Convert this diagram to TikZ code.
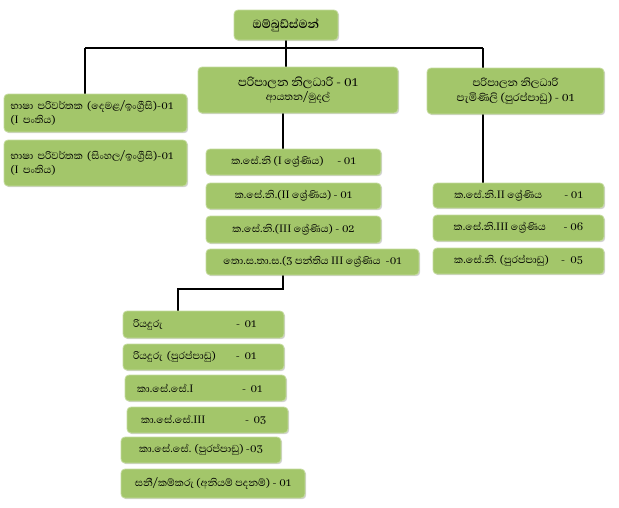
\documentclass[tikz,border=0pt]{standalone}
\usepackage{fontspec}
\setmainfont{Liberation Serif}
\newfontfamily\sinhala[Script=Sinhala]{Abhaya Libre}
\usetikzlibrary{shadows,backgrounds}
\definecolor{postfill}{RGB}{163,198,106}
\definecolor{postline}{RGB}{196,219,158}
\newcommand{\zwj}{^^^^200d}
\newcommand{\entry}[3]{\makebox[#1][l]{#2}#3}
\tikzset{
  post/.style={draw=postline, fill=postfill, line width=0.8pt, rounded corners=4pt,
    inner sep=0pt, font=\sinhala\fontsize{12.8}{14}\selectfont,
    drop shadow={opacity=0.35, shadow xshift=1.2pt, shadow yshift=-1.2pt}},
  link/.style={line width=1.7pt, black}
}
\begin{document}
\begin{tikzpicture}[x=1pt, y=-1pt]
  \useasboundingbox (0,0) rectangle (619,507);
  % head
  \node[post, minimum width=104pt, minimum height=30pt, font=\sinhala\bfseries\fontsize{15}{17}\selectfont] (omb) at (286,25) {ඔම්බුඩ්ස්මන්};
  \node[post, minimum width=200pt, minimum height=46pt, align=center, font=\sinhala\fontsize{15}{15}\selectfont] (admA) at (298,90)
    {පරිපාලන නිලධාරි - 01\\[-1pt]{\fontsize{13}{14}\selectfont ආයතන/මුදල්}};
  \node[post, minimum width=177pt, minimum height=46pt, align=center, font=\sinhala\fontsize{13.5}{15}\selectfont] (admB) at (515.5,91)
    {පරිපාලන නිලධාරි\\පැමිණිලි (පුරප්පාඩු) - 01};
  % translators
  \node[post, minimum width=183pt, minimum height=38pt, text width=170pt, align=left] (transA) at (95.5,113)
    {භාෂා පරිවර්තක (දෙමළ/ඉංග්\zwj රීසි)-01\\(I පංතිය)};
  \node[post, minimum width=183pt, minimum height=46pt, text width=170pt, align=left] (transB) at (95.5,163)
    {භාෂා පරිවර්තක (සිංහල/ඉංග්\zwj රීසි)-01\\(I පංතිය)};
  % ayathana / mudal
  \node[post, minimum width=175pt, minimum height=26pt] (mA1) at (293.5,162) {\entry{106pt}{ක.සේ.නි (I ශ්\zwj රේණිය)}{- 01}};
  \node[post, minimum width=175pt, minimum height=26pt] (mA2) at (293.5,196) {ක.සේ.නි.(II ශ්\zwj රේණිය) - 01};
  \node[post, minimum width=175pt, minimum height=27pt] (mA3) at (293.5,229.5) {ක.සේ.නි.(III ශ්\zwj රේණිය) - 02};
  \node[post, minimum width=213pt, minimum height=26pt] (mA4) at (312.5,262) {තො.ස.තා.ස.(3 පන්තිය III ශ්\zwj රේණිය\ \ -01};
  % paminili
  \node[post, minimum width=171pt, minimum height=25pt] (mB1) at (518.5,195.5) {\entry{110pt}{ක.සේ.නි.II ශ්\zwj රේණිය}{- 01}};
  \node[post, minimum width=171pt, minimum height=26pt] (mB2) at (518.5,228) {\entry{110pt}{ක.සේ.නි.III ශ්\zwj රේණිය}{- 06}};
  \node[post, minimum width=171pt, minimum height=26pt] (mB3) at (518.5,261) {\entry{107pt}{ක.සේ.නි. (පුරප්පාඩු)}{-\ \ 05}};
  % lower grades
  \node[post, minimum width=161pt, minimum height=27pt, text width=141pt, align=left] (d1) at (203.5,324.5) {\entry{103pt}{රියදුරු}{-\ 01}};
  \node[post, minimum width=161pt, minimum height=26pt, text width=141pt, align=left] (d2) at (203.5,357) {\entry{103pt}{රියදුරු (පුරප්පාඩු)}{-\ 01}};
  \node[post, minimum width=161pt, minimum height=26pt, text width=137pt, align=left] (d3) at (205.5,388) {\entry{105pt}{කා.සේ.සේ.I}{-\ 01}};
  \node[post, minimum width=161pt, minimum height=26pt, text width=133pt, align=left] (d4) at (207.5,420) {\entry{104pt}{කා.සේ.සේ.III}{-\ 03}};
  \node[post, minimum width=160pt, minimum height=26pt] (d5) at (201,450) {කා.සේ.සේ. (පුරප්පාඩු) -03};
  \node[post, minimum width=184pt, minimum height=29pt] (d6) at (213,483.5) {සනී/කම්කරු (අනියම් පදනම්) - 01};
  % connectors
  \coordinate (barL) at (85,48);
  \coordinate (barR) at (483,48);
  \coordinate (bend) at (178,289);
  \begin{scope}[on background layer]
    \draw[link] (barL) -- (barR);
    \draw[link] (omb.south) -- (omb.south |- admA.north);
    \draw[link] (barL) -- (barL |- transA.north);
    \draw[link] (barR) -- (barR |- mB1.north);
    \draw[link] (admA.south -| 283,0) -- (mA1.north -| 283,0);
    \draw[link] (mA4.south -| 283,0) -- (bend -| 283,0) -- (bend) -- (bend |- d1.north);
  \end{scope}
\end{tikzpicture}
\end{document}
